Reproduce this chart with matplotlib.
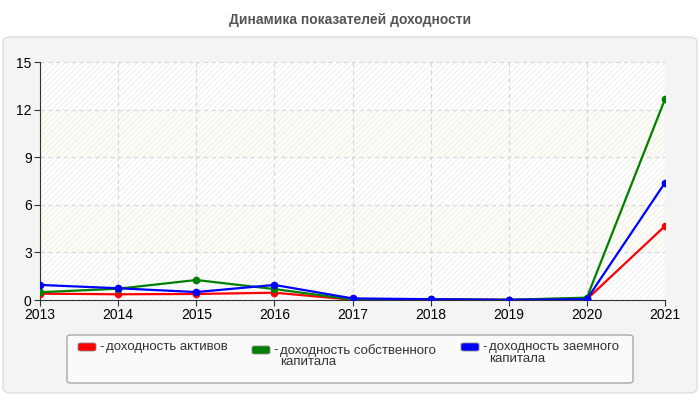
import matplotlib.pyplot as plt
from matplotlib.patches import FancyBboxPatch, Rectangle
import numpy as np

years = [2013, 2014, 2015, 2016, 2017, 2018, 2019, 2020, 2021]
assets = [0.40, 0.36, 0.38, 0.46, 0.02, 0.03, 0.01, 0.05, 4.66]
equity = [0.49, 0.71, 1.26, 0.69, 0.03, 0.04, 0.01, 0.15, 12.66]
borrowed = [0.95, 0.74, 0.50, 0.95, 0.10, 0.05, 0.01, 0.05, 7.39]

labels = ['доходность активов',
          'доходность собственного\nкапитала',
          'доходность заемного\nкапитала']
colors = ['#ff0000', '#008000', '#0000ff']

plt.rcParams['font.family'] = ['Liberation Sans', 'DejaVu Sans']
plt.rcParams['hatch.linewidth'] = 0.7

fig = plt.figure(figsize=(7, 4), dpi=100)
fig.patch.set_facecolor('white')

# outer panel
panel = FancyBboxPatch((3 / 700, 7 / 400), 694 / 700, 356 / 400,
                       boxstyle='round,pad=0,rounding_size=0.012',
                       transform=fig.transFigure, facecolor='#f4f4f4',
                       edgecolor='#dedede', linewidth=1, zorder=-5)
fig.patches.append(panel)

fig.text(0.5, 380 / 400, 'Динамика показателей доходности', ha='center', va='center',
         fontsize=10, fontweight='bold', color='#555555')

ax = fig.add_axes([40 / 700, 100 / 400, 625 / 700, 238 / 400])
ax.set_zorder(3)
ax.set_facecolor('white')
for lo in range(0, 15, 3):
    fc = '#fdfdf6' if lo in (3, 9) else 'white'
    ax.add_patch(Rectangle((2013, lo), 8, 3, facecolor=fc, edgecolor='#efefef',
                           linewidth=0, hatch='//////', zorder=0))

ax.plot(years, assets, color=colors[0], lw=1.6, marker='o', ms=4.5, zorder=3)
ax.plot(years, equity, color=colors[1], lw=1.6, marker='o', ms=4.5, zorder=3)
ax.plot(years, borrowed, color=colors[2], lw=1.6, marker='o', ms=4.5, zorder=4)

ax.set_xlim(2013, 2021)
ax.set_ylim(0, 15)
ax.set_xticks(years)
ax.set_yticks([0, 3, 6, 9, 12, 15])
ax.grid(True, color='#d6d6d6', linestyle=(0, (4, 3)), linewidth=0.8)
ax.set_axisbelow(True)
for s in ['top', 'right']:
    ax.spines[s].set_visible(False)
for s in ['left', 'bottom']:
    ax.spines[s].set_color('#333333')
ax.tick_params(colors='#333333', labelsize=10, length=4, pad=2)
ax.tick_params(axis='x', labelcolor='black')
ax.tick_params(axis='y', labelcolor='black')

# legend box
leg = FancyBboxPatch((67 / 700, 17 / 400), 566 / 700, 48 / 400,
                     boxstyle='round,pad=0,rounding_size=0.006',
                     transform=fig.transFigure, facecolor='#fafafa',
                     edgecolor='#a8a8a8', linewidth=1, zorder=1)
fig.patches.append(leg)
xs = [78, 252, 461]
tops = [343, 346, 343]
for x, top, c, t in zip(xs, tops, colors, labels):
    fig.patches.append(FancyBboxPatch((x / 700, (400 - top - 8) / 400), 18 / 700, 8 / 400,
                                      boxstyle='round,pad=0,rounding_size=0.004',
                                      transform=fig.transFigure, facecolor=c,
                                      edgecolor='#888888', linewidth=0.6, zorder=2))
    fig.text((x + 21) / 700, (400 - top + 2) / 400, '-', ha='left', va='top',
             fontsize=9.5, color='#333333')
    fig.text((x + 28) / 700, (400 - top + 2) / 400, t, ha='left', va='top',
             fontsize=9.5, color='#333333', linespacing=0.95)

fig.savefig('out.png', dpi=100)
